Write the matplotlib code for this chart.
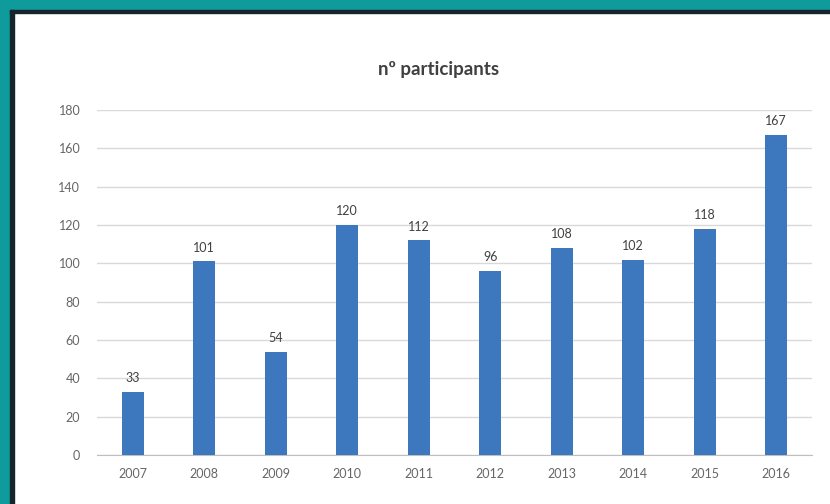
import matplotlib.pyplot as plt
from matplotlib.patches import Rectangle

# data
years = ["2007", "2008", "2009", "2010", "2011", "2012", "2013", "2014", "2015", "2016"]
participants = [33, 101, 54, 120, 112, 96, 108, 102, 118, 167]
yticks = [0, 20, 40, 60, 80, 100, 120, 140, 160, 180]

plt.rcParams['font.family'] = ['Lato', 'DejaVu Sans']

fig = plt.figure(figsize=(8.3, 5.04), dpi=100)
W, H = 830, 504

# teal frame + dark inner edge (top and left only, picture is cropped)
teal = "#0f9a9c"
dark = "#15252b"
fig.patches.append(Rectangle((0, 0), 1, 1, transform=fig.transFigure, color="white", zorder=-3))
fig.patches.append(Rectangle((0, 1 - 10 / H), 1, 10 / H, transform=fig.transFigure, color=teal, zorder=-2))
fig.patches.append(Rectangle((0, 0), 10 / W, 1, transform=fig.transFigure, color=teal, zorder=-2))
fig.patches.append(Rectangle((10 / W, 0), 3.5 / W, 1 - 10 / H, transform=fig.transFigure, color=dark, zorder=-1))
fig.patches.append(Rectangle((10 / W, 1 - 13 / H), 1, 3 / H, transform=fig.transFigure, color=dark, zorder=-1))

ax = fig.add_axes([97 / W, (H - 455) / H, (812 - 97) / W, 345 / H])
x = range(len(years))
bars = ax.bar(x, participants, width=0.31, color="#3d77bd", zorder=3)

for xi, v in zip(x, participants):
    ax.text(xi, v + 4, str(v), ha="center", va="bottom", fontsize=9, color="#404040")

ax.set_xlim(-0.5, len(years) - 0.5)
ax.set_ylim(0, 180)
ax.set_yticks(yticks)
ax.set_xticks(list(x))
ax.set_xticklabels(years)
ax.tick_params(axis="both", length=0, labelsize=9, colors="#666666")
ax.tick_params(axis="y", pad=12)
ax.tick_params(axis="x", pad=9)
ax.grid(axis="y", color="#d9d9d9", linewidth=1, zorder=0)
for s in ["top", "right", "left"]:
    ax.spines[s].set_visible(False)
ax.spines["bottom"].set_color("#bfbfbf")

fig.text(0.5 + 24 / W, (H - 70) / H, "nº participants", ha="center", va="center",
         fontsize=13.5, fontweight="bold", color="#404040")

fig.savefig("out.png", dpi=100)
